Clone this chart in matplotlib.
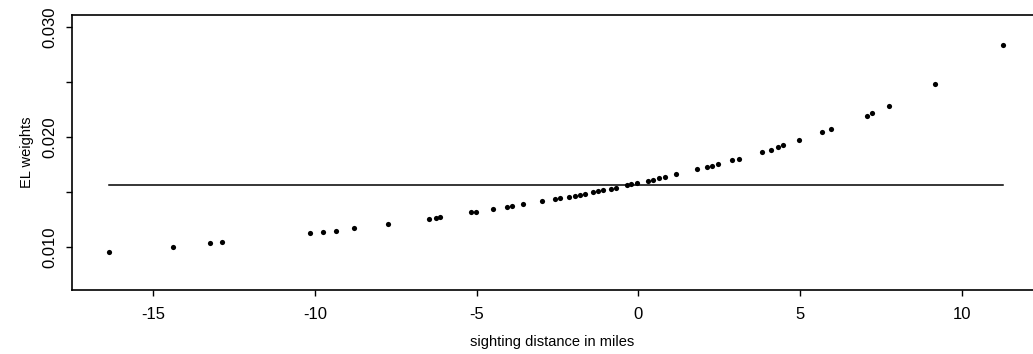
import matplotlib
matplotlib.use("Agg")
import matplotlib.pyplot as plt
from matplotlib.ticker import MultipleLocator

distance = [
    -16.36, -14.38, -13.24, -12.87, -10.15, -9.75, -9.34, -8.79, -7.74, -6.47,
    -6.26, -6.13, -5.17, -5.02, -4.49, -4.06, -3.91, -3.57, -2.98, -2.58,
    -2.42, -2.14, -1.96, -1.80, -1.65, -1.40, -1.25, -1.09, -0.85, -0.69,
    -0.35, -0.23, -0.04, 0.29, 0.45, 0.63, 0.82, 1.16, 1.81, 2.12,
    2.27, 2.46, 2.89, 3.11, 3.82, 4.10, 4.31, 4.47, 4.96, 5.67,
    5.95, 7.06, 7.22, 7.74, 9.16, 11.26,
]
weights = [
    0.00955, 0.01000, 0.01036, 0.01045, 0.01127, 0.01136, 0.01145, 0.01173, 0.01209, 0.01255,
    0.01264, 0.01273, 0.01318, 0.01318, 0.01345, 0.01364, 0.01373, 0.01391, 0.01418, 0.01436,
    0.01445, 0.01455, 0.01464, 0.01473, 0.01482, 0.01500, 0.01509, 0.01518, 0.01527, 0.01536,
    0.01564, 0.01573, 0.01582, 0.01600, 0.01609, 0.01627, 0.01636, 0.01664, 0.01709, 0.01727,
    0.01736, 0.01755, 0.01791, 0.01800, 0.01864, 0.01882, 0.01909, 0.01927, 0.01973, 0.02045,
    0.02073, 0.02191, 0.02218, 0.02282, 0.02482, 0.02836,
]
uniform_weight = 1 / 64  # reference level (equal weights)

x_ticks = [-15, -10, -5, 0, 5, 10]
y_ticks = [0.010, 0.020, 0.030]

plt.rcParams["font.family"] = ["Liberation Sans", "DejaVu Sans"]

fig = plt.figure(figsize=(10.33, 3.54), dpi=100)
ax = fig.add_axes([0.0697, 0.1808, 0.9303, 0.7768])

ax.scatter(distance, weights, s=14, color="black", linewidths=0, zorder=3)
ax.plot([min(distance), max(distance)], [uniform_weight, uniform_weight],
        color="black", linewidth=1.1)

ax.set_xlim(-17.5, 12.19)
ax.set_ylim(0.00609, 0.03109)
ax.set_xticks(x_ticks)
ax.set_xticklabels([str(t) for t in x_ticks])
ax.set_yticks(y_ticks)
ax.set_yticklabels(["%.3f" % t for t in y_ticks], rotation=90, va="center")
ax.yaxis.set_minor_locator(MultipleLocator(0.005))

ax.tick_params(axis="both", which="both", direction="out", length=4.5, width=1.0,
               labelsize=12)
ax.tick_params(axis="x", pad=8)
ax.tick_params(axis="y", pad=6)

for side in ["top", "bottom", "left"]:
    ax.spines[side].set_linewidth(1.2)
ax.spines["right"].set_visible(False)

ax.set_xlabel("sighting distance in miles", fontsize=10.5, labelpad=9)
ax.set_ylabel("EL weights", fontsize=10.5, labelpad=6)

fig.savefig("out.png", dpi=100)
